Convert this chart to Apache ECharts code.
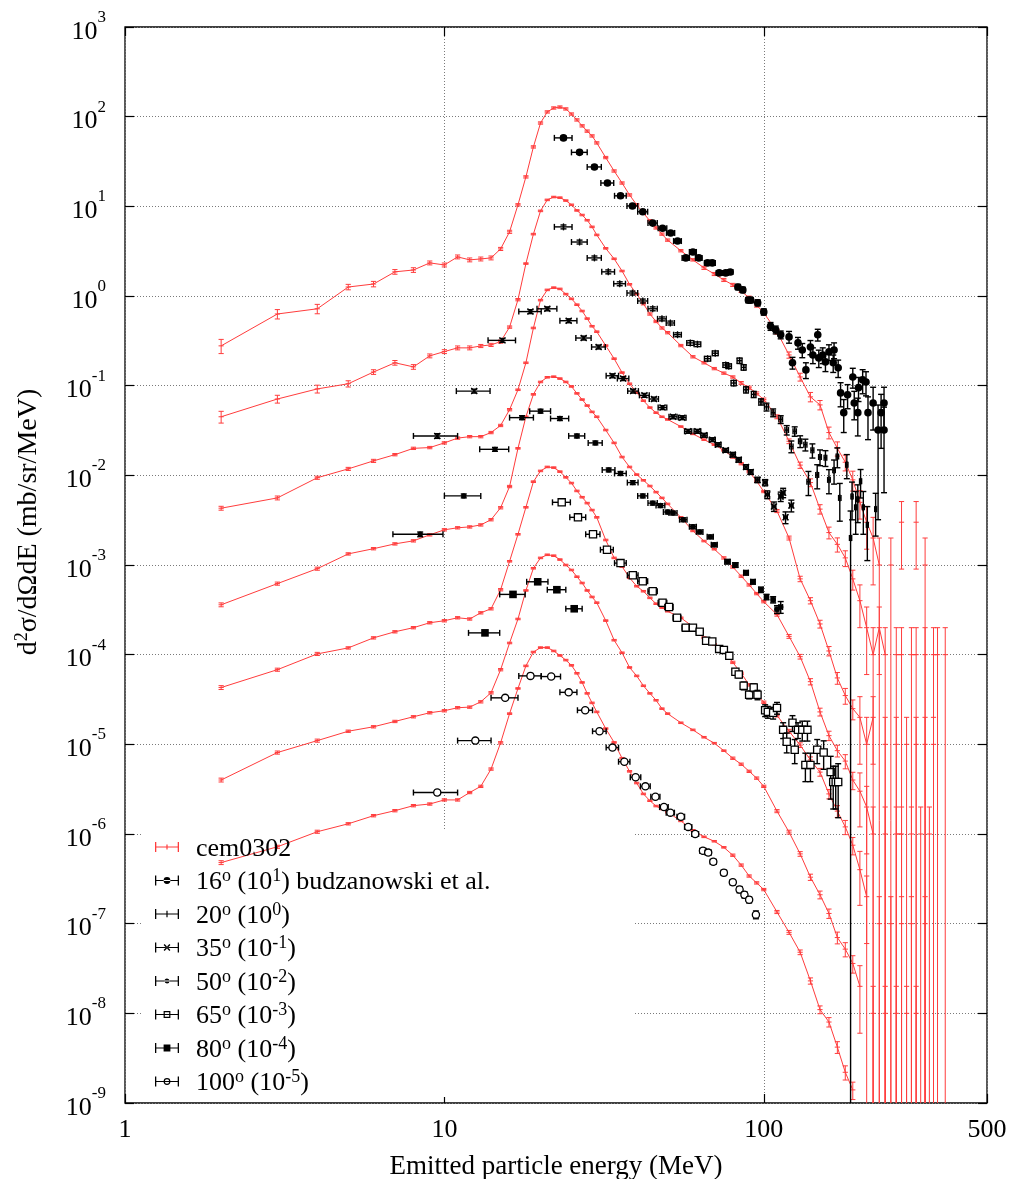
<!DOCTYPE html>
<html>
<head>
<meta charset="utf-8">
<script src="https://cdn.jsdelivr.net/npm/echarts@6/dist/echarts.min.js"></script>
<style>
  html, body { margin: 0; padding: 0; background: #fff; }
  #chart { width: 1014px; height: 1179px; }
</style>
</head>
<body>
<div id="chart"></div>
<script>
// Double-differential cross sections vs. emitted particle energy.
// Rows: [energy (MeV), d2sigma/dOmega dE (mb/sr/MeV, scaled), relative error]
// A value of 0 marks an empty bin of the calculation (nothing is drawn there).

// ---- cem0302 calculations (one curve per angle) ----
const cem16 = [
  [2,0.278,0.18],[3,0.63,0.12],[4,0.72,0.12],[5,1.26,0.07],[6,1.36,0.07],[7,1.86,0.06],[8,1.95,0.06],[9,2.34,0.05],[10,2.22,0.05],
  [11,2.73,0.05],[12,2.53,0.05],[13,2.59,0.05],[14,2.66,0.05],[15,3.35,0.04],[16,5.2,0.04],[17,10.4,0.03],[18,21.3,0.03],[19,46,0.03],
  [20,85,0.03],[21,113,0.03],[22,125,0.03],[23,128,0.03],[24,122,0.03],[25,107,0.03],[26,92,0.03],[27,79,0.03],[28,69,0.03],[29,61,0.03],
  [30,51,0.03],[32,35,0.03],[34,24.8,0.03],[36,18.2,0.03],[38,13.4,0.03],[40,10.4,0.03],[42,8.4,0.03],[44,6.9,0.03],[46,5.75,0.03],
  [48,4.9,0.03],[50,4.2,0.03],[55,3.2,0.03],[60,2.53,0.03],[65,2.06,0.04],[70,1.76,0.04],[75,1.51,0.04],[80,1.33,0.04],[85,1.14,0.04],
  [90,0.95,0.05],[95,0.79,0.05],[100,0.65,0.05],[110,0.40,0.06],[120,0.22,0.08],[130,0.125,0.1],[140,0.075,0.12],[150,0.061,0.12],
  [160,0.030,0.15],[170,0.020,0.18],[180,0.014,0.2],[190,0.0089,0.25],
  [200,0.005,0.35],[210,0.003,0.5],[220,0.002,0.7],[230,0.001,1],[240,0,0],[250,0.001,1],[260,0,0],[270,0.003,0.7],[280,0,0],
  [290,0,0],[300,0.003,0.7],[310,0,0],[320,0.001,1],[330,0,0]
];
const cem20 = [
  [2,0.045,0.15],[3,0.071,0.1],[4,0.092,0.1],[5,0.105,0.08],[6,0.142,0.06],[7,0.18,0.06],[8,0.162,0.06],[9,0.215,0.05],[10,0.24,0.05],
  [11,0.264,0.05],[12,0.264,0.05],[13,0.277,0.04],[14,0.285,0.04],[15,0.31,0.04],[16,0.45,0.03],[17,0.91,0.03],[18,2.3,0.02],[19,4.9,0.02],
  [20,8.9,0.02],[21,11.8,0.02],[22,12.7,0.02],[23,12.5,0.02],[24,11.6,0.02],[25,10.4,0.02],[26,9.0,0.02],[27,8.0,0.02],[28,7.0,0.02],
  [29,5.9,0.02],[30,4.8,0.02],[32,3.4,0.02],[34,2.6,0.02],[36,1.9,0.02],[38,1.35,0.02],[40,1.05,0.02],[42,0.82,0.03],[44,0.63,0.03],
  [46,0.52,0.03],[48,0.44,0.03],[50,0.39,0.03],[55,0.28,0.03],[60,0.21,0.03],[65,0.18,0.03],[70,0.155,0.03],[75,0.138,0.03],[80,0.125,0.03],
  [85,0.107,0.04],[90,0.095,0.04],[95,0.082,0.04],[100,0.07,0.04],[110,0.045,0.05],[120,0.024,0.06],[130,0.013,0.08],[140,0.0083,0.1],
  [150,0.0042,0.12],[160,0.0023,0.15],[170,0.0017,0.18],[180,0.0012,0.2],[190,0.0007,0.25],
  [200,0.0004,0.5],[210,0.0002,0.7],[220,0.0001,1],[230,0.0002,0.7],[240,0.0001,1],[250,0,0],[260,0.0001,1],[270,0.0001,1],[280,0,0],
  [290,0.0001,1],[300,0.0001,1],[310,0,0],[320,0.0001,1],[330,0,0],[340,0.0001,1],[350,0.0001,1],[360,0,0],[370,0.0001,1]
];
const cem35 = [
  [2,0.0043,0.05],[3,0.0056,0.05],[4,0.0094,0.04],[5,0.0118,0.04],[6,0.0145,0.04],[7,0.017,0.03],[8,0.020,0.03],[9,0.0204,0.03],[10,0.023,0.03],
  [11,0.026,0.03],[12,0.027,0.03],[13,0.027,0.03],[14,0.030,0.03],[15,0.036,0.03],[16,0.054,0.03],[17,0.09,0.02],[18,0.18,0.02],[19,0.44,0.02],
  [20,0.90,0.02],[21,1.17,0.02],[22,1.24,0.02],[23,1.2,0.02],[24,1.05,0.02],[25,0.93,0.02],[26,0.80,0.02],[27,0.68,0.02],[28,0.56,0.02],
  [29,0.46,0.02],[30,0.40,0.02],[32,0.28,0.02],[34,0.20,0.02],[36,0.14,0.02],[38,0.105,0.02],[40,0.084,0.02],[42,0.068,0.02],[44,0.057,0.02],
  [46,0.05,0.02],[48,0.045,0.02],[50,0.042,0.02],[55,0.035,0.02],[60,0.029,0.02],[65,0.025,0.02],[70,0.022,0.02],[75,0.019,0.02],[80,0.016,0.03],
  [85,0.0135,0.03],[90,0.011,0.03],[95,0.0086,0.03],[100,0.0066,0.03],[110,0.004,0.04],[120,0.002,0.05],[130,0.0007,0.07],[140,0.0004,0.08],
  [150,0.00022,0.1],[160,0.00011,0.12],[170,0.000055,0.15],[180,0.000035,0.2],[190,0.000025,0.25],
  [200,0.00002,0.7],[210,0.00001,1],[220,0.00002,0.7],[230,0,0],[240,0.00001,1],[250,0,0],[260,0.00001,1],[270,0,0],[280,0.00001,1],
  [290,0,0],[300,0.00001,1],[310,0,0],[320,0.00001,1],[330,0,0],[340,0.00001,1],[350,0,0]
];
const cem50 = [
  [2,3.6e-4,0.05],[3,6.2e-4,0.04],[4,9.1e-4,0.04],[5,1.33e-3,0.03],[6,1.52e-3,0.03],[7,1.72e-3,0.03],[8,1.86e-3,0.03],[9,2.17e-3,0.03],[10,2.47e-3,0.03],
  [11,2.6e-3,0.03],[12,2.66e-3,0.03],[13,2.8e-3,0.03],[14,3.2e-3,0.03],[15,4.35e-3,0.03],[16,7.5e-3,0.03],[17,0.02,0.02],[18,0.045,0.02],[19,0.08,0.02],
  [20,0.11,0.02],[21,0.124,0.02],[22,0.126,0.02],[23,0.12,0.02],[24,0.11,0.02],[25,0.098,0.02],[26,0.082,0.02],[27,0.07,0.02],[28,0.06,0.02],
  [29,0.051,0.02],[30,0.045,0.02],[32,0.032,0.02],[34,0.023,0.02],[36,0.016,0.02],[38,0.0124,0.02],[40,0.0102,0.02],[42,8.8e-3,0.02],[44,7.6e-3,0.02],
  [46,6.5e-3,0.02],[48,5.6e-3,0.02],[50,4.8e-3,0.02],[55,3.4e-3,0.02],[60,2.4e-3,0.02],[65,1.85e-3,0.02],[70,1.5e-3,0.02],[75,1.2e-3,0.03],[80,9.5e-4,0.03],
  [85,7.5e-4,0.03],[90,6.0e-4,0.03],[95,4.8e-4,0.03],[100,3.9e-4,0.03],[110,2.8e-4,0.04],[120,1.6e-4,0.05],[130,9.5e-5,0.06],[140,5e-5,0.08],
  [150,2.3e-5,0.1],[160,1.25e-5,0.12],[170,8.5e-6,0.15],[180,6.5e-6,0.18],[190,4e-6,0.22],
  [200,3e-6,0.6],[210,2e-6,0.7],[220,1e-6,1],[230,0,0],[240,1e-6,1],[250,0,0],[260,1e-6,1],[270,1e-6,1],[280,0,0],[290,1e-6,1],
  [300,0,0],[310,1e-6,1],[320,0,0],[330,1e-6,1],[340,0,0]
];
const cem65 = [
  [2,4.3e-5,0.05],[3,6.8e-5,0.04],[4,1.02e-4,0.04],[5,1.19e-4,0.03],[6,1.54e-4,0.03],[7,1.8e-4,0.03],[8,2.0e-4,0.03],[9,2.27e-4,0.03],[10,2.39e-4,0.03],
  [11,2.58e-4,0.03],[12,2.5e-4,0.03],[13,2.93e-4,0.03],[14,3.25e-4,0.03],[15,5.3e-4,0.03],[16,1.1e-3,0.02],[17,2.2e-3,0.02],[18,4.4e-3,0.02],[19,8.5e-3,0.02],
  [20,0.0112,0.02],[21,0.0124,0.02],[22,0.0122,0.02],[23,0.011,0.02],[24,0.0095,0.02],[25,0.0082,0.02],[26,0.0067,0.02],[27,0.0057,0.02],[28,0.0049,0.02],
  [29,0.0041,0.02],[30,0.0034,0.02],[32,0.0019,0.02],[34,0.0012,0.02],[36,9.6e-4,0.02],[38,7.2e-4,0.02],[40,5.8e-4,0.02],[42,5.1e-4,0.02],[44,4.3e-4,0.02],
  [46,3.7e-4,0.02],[48,3.35e-4,0.02],[50,3.05e-4,0.02],[55,2.58e-4,0.02],[60,2.05e-4,0.02],[65,1.55e-4,0.02],[70,1.3e-4,0.02],[75,1.1e-4,0.02],[80,8.2e-5,0.03],
  [85,6.2e-5,0.03],[90,4.6e-5,0.03],[95,3.6e-5,0.03],[100,2.95e-5,0.03],[110,2.1e-5,0.04],[120,1.4e-5,0.05],[130,9.8e-6,0.06],[140,6.7e-6,0.08],
  [150,4.9e-6,0.1],[160,2.8e-6,0.12],[170,1.8e-6,0.15],[180,1.2e-6,0.18],[190,7.5e-7,0.22],
  [200,4e-7,0.6],[210,2e-7,0.7],[220,0,0],[230,1e-7,1],[240,0,0],[250,1e-7,1],[260,0,0],[270,1e-7,1],[280,0,0],[290,1e-7,1],[300,0,0],[320,1e-7,1],[330,0,0]
];
const cem80 = [
  [2,4.0e-6,0.05],[3,8.1e-6,0.04],[4,1.1e-5,0.04],[5,1.4e-5,0.03],[6,1.57e-5,0.03],[7,1.8e-5,0.03],[8,2.03e-5,0.03],[9,2.25e-5,0.03],[10,2.37e-5,0.03],
  [11,2.56e-5,0.03],[12,2.6e-5,0.03],[13,2.98e-5,0.03],[14,3.76e-5,0.03],[15,6.8e-5,0.03],[16,1.35e-4,0.02],[17,2.5e-4,0.02],[18,5.2e-4,0.02],[19,9.2e-4,0.02],
  [20,1.2e-3,0.02],[21,1.3e-3,0.02],[22,1.27e-3,0.02],[23,1.15e-3,0.02],[24,1.0e-3,0.02],[25,8.8e-4,0.02],[26,7.4e-4,0.02],[27,6.3e-4,0.02],[28,5.2e-4,0.02],
  [29,4.4e-4,0.02],[30,3.8e-4,0.02],[32,2.4e-4,0.02],[34,1.45e-4,0.02],[36,1.05e-4,0.02],[38,7.2e-5,0.02],[40,5.8e-5,0.02],[42,4.5e-5,0.02],[44,3.7e-5,0.02],
  [46,3.1e-5,0.02],[48,2.5e-5,0.02],[50,2.2e-5,0.02],[55,1.74e-5,0.02],[60,1.45e-5,0.02],[65,1.2e-5,0.02],[70,1.03e-5,0.02],[75,8.5e-6,0.02],[80,7.0e-6,0.03],
  [85,6.0e-6,0.03],[90,5.0e-6,0.03],[95,4.2e-6,0.03],[100,3.4e-6,0.03],[110,1.8e-6,0.04],[120,1.05e-6,0.05],[130,6e-7,0.06],[140,3.3e-7,0.08],
  [150,2.1e-7,0.1],[160,1.3e-7,0.12],[170,7e-8,0.15],[180,5.2e-8,0.18],[190,3.6e-8,0.22],
  [200,2e-8,0.7],[210,0,0],[220,1e-8,1],[230,0,0],[240,1e-8,1],[250,0,0],[260,1e-8,1],[270,0,0],[280,1e-8,1],[290,0,0],[300,1e-8,1],[310,0,0]
];
const cem100 = [
  [2,4.8e-7,0.05],[3,7.2e-7,0.04],[4,1.06e-6,0.04],[5,1.3e-6,0.03],[6,1.6e-6,0.03],[7,1.82e-6,0.03],[8,2.07e-6,0.03],[9,2.16e-6,0.03],[10,2.4e-6,0.03],
  [11,2.4e-6,0.03],[12,2.9e-6,0.03],[13,3.4e-6,0.03],[14,5.3e-6,0.03],[15,1.04e-5,0.03],[16,2.2e-5,0.02],[17,4.2e-5,0.02],[18,7.5e-5,0.02],[19,1.07e-4,0.02],
  [20,1.2e-4,0.02],[21,1.2e-4,0.02],[22,1.1e-4,0.02],[23,9.8e-5,0.02],[24,8.7e-5,0.02],[25,7.6e-5,0.02],[26,6.2e-5,0.02],[27,4.9e-5,0.02],[28,3.7e-5,0.02],
  [29,2.9e-5,0.02],[30,2.3e-5,0.02],[32,1.5e-5,0.02],[34,1.05e-5,0.02],[36,7.0e-6,0.02],[38,5.0e-6,0.02],[40,3.7e-6,0.02],[42,2.8e-6,0.02],[44,2.35e-6,0.02],
  [46,2.05e-6,0.02],[48,1.9e-6,0.02],[50,1.75e-6,0.02],[55,1.4e-6,0.02],[60,1.1e-6,0.02],[65,9.3e-7,0.02],[70,8.3e-7,0.02],[75,7.1e-7,0.02],[80,5.8e-7,0.03],
  [85,4.5e-7,0.03],[90,3.4e-7,0.03],[95,2.85e-7,0.03],[100,2.4e-7,0.03],[110,1.35e-7,0.04],[120,8e-8,0.05],[130,4.8e-8,0.06],[140,2.3e-8,0.08],
  [150,1.1e-8,0.1],[160,8e-9,0.12],[170,4.2e-9,0.15],[180,2.2e-9,0.18],[190,1.4e-9,0.22]
];

// ---- budzanowski et al. measurements ----
const exp16 = [
  [23.6,58,0.05],[26.5,40,0.05],[29.5,27.5,0.05],[32.4,18.2,0.05],[35.6,13.1,0.05],[38.8,10.1,0.05],[41.8,8.7,0.05],[44.9,6.5,0.05],
  [48.2,5.7,0.05],[51.1,5.05,0.05],[53.7,4.1,0.05],[57,2.66,0.06],[60,3.1,0.06],[62.6,2.66,0.06],[66.7,2.34,0.06],[69,2.34,0.06],
  [72.5,1.81,0.06],[76,1.81,0.06],[78.5,1.85,0.06],[83,1.26,0.07],[86,1.17,0.07],[89.5,0.90,0.07],[91,0.90,0.07],[95.7,0.84,0.08],
  [100,0.665,0.08],[105,0.46,0.1],[109,0.42,0.1],[113,0.37,0.1],[120,0.35,0.15],[123,0.18,0.15],[128,0.30,0.15],[132,0.25,0.18],
  [135.5,0.15,0.2],[140,0.27,0.18],[142.5,0.22,0.2],[147.6,0.37,0.15],[148.7,0.204,0.22],[153,0.22,0.2],[156,0.184,0.22],[160,0.238,0.2],
  [165,0.18,0.22],[166,0.25,0.2],[171,0.158,0.22],[174,0.083,0.3],[178,0.05,0.4],[183,0.079,0.3],[190,0.125,0.25],[192,0.064,0.35],
  [197,0.05,0.45],[198,0.095,0.3],[204,0.116,0.3],[209,0.11,0.3],[212,0.05,0.5],[220,0.064,0.5],[228,0.032,0.9],[233,0.05,0.6],
  [238,0.064,0.5],[238,0.032,0.8]
];
const exp20 = [
  [23.6,5.9,0.05],[26.5,4.0,0.05],[29.5,2.66,0.05],[32.6,1.86,0.05],[35.4,1.37,0.05],[38.8,1.08,0.05],[41.8,0.88,0.05],[44.9,0.72,0.05],
  [48,0.556,0.05],[51,0.50,0.05],[53.7,0.37,0.05],[58.9,0.30,0.06],[62,0.29,0.06],[66.7,0.20,0.06],[70.5,0.23,0.06],[76,0.17,0.06],
  [77.7,0.165,0.06],[80.5,0.107,0.07],[84,0.19,0.07],[86.5,0.16,0.07],[88,0.09,0.08],[93,0.08,0.08],[98,0.066,0.08],[102,0.058,0.1],
  [107,0.05,0.1],[113,0.042,0.1],[118,0.032,0.12],[122,0.021,0.15],[125,0.031,0.12],[130,0.024,0.15],[135,0.022,0.15],[138,0.0085,0.3],
  [142,0.019,0.18],[147,0.0101,0.3],[150,0.016,0.2],[156,0.0157,0.2],[160,0.0089,0.3],[166,0.0114,0.3],[170,0.0162,0.25],[173,0.0056,0.45],
  [182,0.0131,0.3],[187,0.002,1],[189,0.0058,0.45],[194,0.0044,0.5],[197,0.0054,0.45],[201,0.0086,0.35],[205,0.0044,0.5],[211,0.0028,0.6],
  [224,0.0042,0.5]
];
const exp35 = [
  [9.5,0.0275,0.06],[12.4,0.087,0.05],[15.2,0.32,0.05],[18.6,0.67,0.05],[21,0.72,0.05],[24.5,0.53,0.05],[27.3,0.34,0.05],[30.4,0.27,0.05],
  [33.6,0.129,0.05],[36.3,0.12,0.05],[39,0.087,0.05],[42.3,0.078,0.05],[45.3,0.071,0.05],[48.2,0.057,0.05],[52,0.045,0.05],[55.6,0.044,0.05],
  [58,0.031,0.05],[62,0.031,0.05],[65,0.028,0.05],[69,0.025,0.05],[72,0.022,0.05],[76,0.019,0.05],[80,0.017,0.06],[83.5,0.0149,0.06],
  [88,0.0124,0.06],[91,0.0109,0.06],[95.6,0.0089,0.07],[101,0.0083,0.08],[102.6,0.0061,0.1],[107.6,0.0045,0.12],[113,0.0058,0.12],
  [115,0.0064,0.12],[117,0.0034,0.15],[122,0.0046,0.15]
];
const exp50 = [
  [8.4,0.0022,0.06],[11.5,0.0059,0.05],[14.4,0.0195,0.05],[17.5,0.044,0.05],[20,0.052,0.05],[23,0.043,0.05],[26,0.0275,0.05],[29.7,0.023,0.05],
  [32.7,0.0115,0.05],[35.6,0.0105,0.05],[38.9,8.3e-3,0.05],[41.8,5.9e-3,0.05],[44.9,4.9e-3,0.05],[47.5,4.6e-3,0.05],[50,3.9e-3,0.05],
  [52,3.8e-3,0.05],[56,3.2e-3,0.05],[60,2.67e-3,0.05],[63,2.34e-3,0.05],[68,2.06e-3,0.05],[70,1.68e-3,0.05],[77,1.09e-3,0.06],
  [81.5,1.0e-3,0.06],[88,8.2e-4,0.06],[92.5,6.5e-4,0.06],[98,5.3e-4,0.07],[102,4.4e-4,0.07],[107,4.1e-4,0.08],[110,3.2e-4,0.1],[113,3.4e-4,0.15]
];
const exp65 = [
  [23.3,5e-3,0.05],[26.2,3.4e-3,0.05],[29.2,2.2e-3,0.05],[32.3,1.48e-3,0.05],[35.6,1.05e-3,0.05],[38.9,7.7e-4,0.05],[41.8,6.6e-4,0.05],
  [44.9,5.1e-4,0.05],[48.2,3.8e-4,0.05],[50.5,3.4e-4,0.05],[53.5,2.58e-4,0.05],[57,2.0e-4,0.05],[60,2.0e-4,0.05],[63,1.8e-4,0.05],
  [66,1.43e-4,0.06],[69,1.4e-4,0.06],[72.5,1.16e-4,0.06],[75,1.13e-4,0.06],[78,9.7e-5,0.07],[81.5,6.45e-5,0.08],[83.5,6.0e-5,0.08],
  [86.5,4.5e-5,0.1],[90,3.57e-5,0.1],[93,4.3e-5,0.1],[95.6,3.57e-5,0.12],[101,2.4e-5,0.15],[103,2.3e-5,0.15],[107,2.25e-5,0.15],
  [110,2.55e-5,0.15],[115,1.45e-5,0.2],[118,1.07e-5,0.25],[123,1.74e-5,0.2],[125,8.7e-6,0.3],[128,1.45e-5,0.2],[132,1.45e-5,0.25],
  [135,5.9e-6,0.35],[137,1.45e-5,0.25],[140,5.9e-6,0.35],[147,8.7e-6,0.3],[154,8.1e-6,0.35],[162,4.9e-6,0.5],[165,3.8e-6,0.5],
  [168,3.8e-6,0.5],[171,3.8e-6,0.6]
];
const exp80 = [
  [13.4,1.75e-4,0.06],[16.4,4.7e-4,0.05],[19.6,6.5e-4,0.05],[22.5,5.3e-4,0.05],[25.5,3.25e-4,0.05]
];
const exp100 = [
  [9.5,2.9e-6,0.06],[12.5,1.1e-5,0.05],[15.5,3.3e-5,0.05],[18.6,5.8e-5,0.05],[21.6,5.7e-5,0.05],[24.5,3.8e-5,0.05],[27.6,2.4e-5,0.05],
  [30.6,1.4e-5,0.05],[33.6,9.2e-6,0.05],[36.6,6.4e-6,0.05],[39.7,4.3e-6,0.05],[42.6,3.4e-6,0.05],[45.8,2.6e-6,0.05],[48.7,2.0e-6,0.05],
  [51,1.73e-6,0.05],[55,1.56e-6,0.05],[58,1.2e-6,0.05],[61,1.0e-6,0.06],[64.5,6.5e-7,0.06],[67,6.2e-7,0.06],[69.5,4.9e-7,0.06],
  [75,3.7e-7,0.07],[80,2.9e-7,0.07],[84,2.4e-7,0.08],[87,2.1e-7,0.08],[90,1.85e-7,0.08],[94.5,1.26e-7,0.1]
];
// energy bin half-width of the measurements (MeV)
const BIN_HALF_WIDTH = 1.5;

// axis ranges
const X_RANGE = [1, 500];
const Y_RANGE = [1e-9, 1e3];

const FONT = '"Liberation Serif", "DejaVu Serif", "Times New Roman", serif';
const RED = '#ff3c3c';
const INK = '#000';

const cemCurves = [cem16, cem20, cem35, cem50, cem65, cem80, cem100];

// small glyphs used in the legend (24 x 10 boxes)
const BAR = 'M0,0h1.3v10h-1.3z M22.7,0h1.3v10h-1.3z M0,4.4h24v1.2h-24z ';
const ICONS = {
  cem: BAR + 'M11.4,2.5h1.2v5h-1.2z',
  dot: BAR + 'M12,1.6a3.4,3.4 0 1,0 0.01,0z',
  plus: BAR + 'M11.4,1.8h1.2v6.4h-1.2z',
  cross: BAR + 'M8.6,2.6L9.6,1.6L15.4,7.4L14.4,8.4Z M15.4,2.6L14.4,1.6L8.6,7.4L9.6,8.4Z',
  smalldot: BAR + 'M12,2.5a2.5,2.5 0 1,0 0.01,0z',
  osquare: BAR + 'M8.6,1.6h6.8v6.8h-6.8z M9.8,2.8v4.4h4.4v-4.4z',
  fsquare: BAR + 'M8.6,1.6h6.8v6.8h-6.8z',
  ocircle: BAR + 'M12,1.6a3.4,3.4 0 1,1 -0.01,0z M12,2.8a2.2,2.2 0 1,0 0.01,0z'
};

const expSets = [
  { name: 'exp16', data: exp16, marker: 'dot',      text: '{n|16}{s|o}{n| (10}{s|1}{n|) budzanowski et al.}' },
  { name: 'exp20', data: exp20, marker: 'plus',     text: '{n|20}{s|o}{n| (10}{s|0}{n|)}' },
  { name: 'exp35', data: exp35, marker: 'cross',    text: '{n|35}{s|o}{n| (10}{s|-1}{n|)}' },
  { name: 'exp50', data: exp50, marker: 'smalldot', text: '{n|50}{s|o}{n| (10}{s|-2}{n|)}' },
  { name: 'exp65', data: exp65, marker: 'osquare',  text: '{n|65}{s|o}{n| (10}{s|-3}{n|)}' },
  { name: 'exp80', data: exp80, marker: 'fsquare',  text: '{n|80}{s|o}{n| (10}{s|-4}{n|)}' },
  { name: 'exp100', data: exp100, marker: 'ocircle', text: '{n|100}{s|o}{n| (10}{s|-5}{n|)}' }
];

const legendText = { cem0302: '{n|cem0302}' };
expSets.forEach(s => { legendText[s.name] = s.text; });

function seg(x1, y1, x2, y2, color, w) {
  return { type: 'line', shape: { x1, y1, x2, y2 }, style: { stroke: color, lineWidth: w } };
}

function markerShape(kind, x, y) {
  const st = { stroke: INK, lineWidth: 1.3 };
  switch (kind) {
    case 'dot': return { type: 'circle', shape: { cx: x, cy: y, r: 3.8 }, style: { fill: INK } };
    case 'smalldot': return { type: 'circle', shape: { cx: x, cy: y, r: 2.7 }, style: { fill: INK } };
    case 'plus': return { type: 'group', children: [seg(x, y - 3.5, x, y + 3.5, INK, 1.3)] };
    case 'cross': return { type: 'group', children: [seg(x - 3, y - 3, x + 3, y + 3, INK, 1.4), seg(x - 3, y + 3, x + 3, y - 3, INK, 1.4)] };
    case 'osquare': return { type: 'rect', shape: { x: x - 3.6, y: y - 3.6, width: 7.2, height: 7.2 }, style: Object.assign({ fill: '#fff' }, st) };
    case 'fsquare': return { type: 'rect', shape: { x: x - 3.8, y: y - 3.8, width: 7.6, height: 7.6 }, style: { fill: INK } };
    case 'ocircle': return { type: 'circle', shape: { cx: x, cy: y, r: 3.6 }, style: Object.assign({ fill: '#fff' }, st) };
  }
  return { type: 'group', children: [] };
}

// vertical error bar with caps plus a small tick at the value (calculation points)
function renderCem(params, api) {
  const cs = params.coordSys;
  const E = api.value(0), v = api.value(1), r = api.value(2);
  if (!(v > 0)) return null;
  const yMin = cs.y, yMax = cs.y + cs.height;
  const p = api.coord([E, v]);
  const topRaw = api.coord([E, v * (1 + r)])[1];
  const lowVal = v * (1 - r);
  const botRaw = lowVal > 0 ? api.coord([E, lowVal])[1] : Infinity;
  const top = Math.max(yMin, topRaw), bot = Math.min(yMax, botRaw);
  const c = 2.6;
  const kids = [seg(p[0], top, p[0], bot, RED, 1)];
  if (topRaw >= yMin) kids.push(seg(p[0] - c, top, p[0] + c, top, RED, 1));
  if (botRaw <= yMax) kids.push(seg(p[0] - c, bot, p[0] + c, bot, RED, 1));
  if (p[1] >= yMin && p[1] <= yMax) kids.push(seg(p[0] - c, p[1], p[0] + c, p[1], RED, 1));
  return { type: 'group', children: kids };
}

// x/y error bars and marker (measurements)
function makeExpRenderer(kind) {
  return function (params, api) {
    const cs = params.coordSys;
    const E = api.value(0), v = api.value(1), r = api.value(2);
    const yMin = cs.y, yMax = cs.y + cs.height;
    const p = api.coord([E, v]);
    const xl = api.coord([E - BIN_HALF_WIDTH, v])[0];
    const xr = api.coord([E + BIN_HALF_WIDTH, v])[0];
    const topRaw = api.coord([E, v * (1 + r)])[1];
    const lowVal = v * (1 - r);
    const botRaw = lowVal > 0 ? api.coord([E, lowVal])[1] : Infinity;
    const top = Math.max(yMin, topRaw), bot = Math.min(yMax, botRaw);
    const c = 3, w = 1.4;
    const kids = [
      seg(xl, p[1], xr, p[1], INK, w),
      seg(xl, p[1] - c, xl, p[1] + c, INK, w),
      seg(xr, p[1] - c, xr, p[1] + c, INK, w),
      seg(p[0], top, p[0], bot, INK, w)
    ];
    if (topRaw >= yMin) kids.push(seg(p[0] - c, top, p[0] + c, top, INK, w));
    if (botRaw <= yMax) kids.push(seg(p[0] - c, bot, p[0] + c, bot, INK, w));
    kids.push(markerShape(kind, p[0], p[1]));
    return { type: 'group', children: kids };
  };
}

const series = [];
cemCurves.forEach(rows => {
  series.push({
    type: 'line', name: 'cem0302',
    data: rows.map(d => [d[0], d[1] > 0 ? d[1] : null]),
    connectNulls: false, showSymbol: false, symbol: 'none',
    lineStyle: { color: RED, width: 1 }, itemStyle: { color: RED }, z: 2, silent: true
  });
  series.push({
    type: 'custom', name: 'cem0302', data: rows, renderItem: renderCem,
    encode: { x: 0, y: 1 }, itemStyle: { color: RED }, z: 3, silent: true, clip: true
  });
});
expSets.forEach(s => {
  series.push({
    type: 'custom', name: s.name, data: s.data, renderItem: makeExpRenderer(s.marker),
    encode: { x: 0, y: 1 }, itemStyle: { color: INK }, z: 4, silent: true, clip: true
  });
});

const supRich = {
  b: { fontFamily: FONT, fontSize: 26, color: INK, padding: [10, 0, 0, 0] },
  s: { fontFamily: FONT, fontSize: 17, color: INK, verticalAlign: 'top', lineHeight: 17 }
};

function logLabel(val) {
  const e = Math.round(Math.log10(val));
  return '{b|10}{s|' + e + '}';
}

const tickStyle = { show: true, inside: true, length: 9, lineStyle: { color: INK, width: 1.2 } };
const gridLine = { show: true, lineStyle: { color: '#7a7a7a', type: [1, 2], width: 1 } };

const chart = echarts.init(document.getElementById('chart'), null, { renderer: 'canvas' });
chart.setOption({
  animation: false,
  backgroundColor: '#fff',
  grid: { left: 125, right: 27, top: 27, bottom: 76, show: true, borderColor: INK, borderWidth: 1.3, backgroundColor: 'transparent', outerBoundsMode: 'none' },
  xAxis: [{
    type: 'log', logBase: 10, min: X_RANGE[0], max: X_RANGE[1], interval: 1,
    axisLine: { show: false }, axisTick: tickStyle, minorTick: { show: false },
    axisLabel: { fontFamily: FONT, fontSize: 26, color: INK, margin: 14, showMaxLabel: true, showMinLabel: true },
    splitLine: gridLine,
    name: 'Emitted particle energy (MeV)', nameLocation: 'middle', nameGap: 50,
    nameTextStyle: { fontFamily: FONT, fontSize: 27, color: INK }
  }, {
    type: 'log', logBase: 10, min: X_RANGE[0], max: X_RANGE[1], interval: 1, position: 'top',
    axisLine: { show: false }, axisLabel: { show: false }, splitLine: { show: false }, axisTick: tickStyle
  }],
  yAxis: [{
    type: 'log', logBase: 10, min: Y_RANGE[0], max: Y_RANGE[1], interval: 1,
    axisLine: { show: false }, axisTick: tickStyle,
    axisLabel: { formatter: logLabel, rich: supRich, margin: 19, showMaxLabel: true, showMinLabel: true },
    splitLine: gridLine
  }, {
    type: 'log', logBase: 10, min: Y_RANGE[0], max: Y_RANGE[1], interval: 1, position: 'right',
    axisLine: { show: false }, axisLabel: { show: false }, splitLine: { show: false }, axisTick: tickStyle
  }],
  legend: {
    orient: 'vertical', left: 155, top: 832, itemWidth: 24, itemHeight: 10, itemGap: 3.5,
    selectedMode: false, backgroundColor: 'transparent', padding: 0,
    data: [{ name: 'cem0302', icon: 'path://' + ICONS.cem, itemStyle: { color: RED, borderWidth: 0 } }]
      .concat(expSets.map(s => ({ name: s.name, icon: 'path://' + ICONS[s.marker], itemStyle: { color: INK, borderWidth: 0 } }))),
    formatter: name => legendText[name],
    textStyle: {
      fontFamily: FONT, fontSize: 26, color: INK, padding: [0, 0, 0, 12],
      rich: {
        n: { fontFamily: FONT, fontSize: 26, color: INK, lineHeight: 26, padding: [4, 0, 0, 0] },
        s: { fontFamily: FONT, fontSize: 18, color: INK, lineHeight: 18, verticalAlign: 'top' }
      }
    }
  },
  graphic: [
    { type: 'rect', silent: true, z: 1, shape: { x: 141, y: 829, width: 494, height: 268 }, style: { fill: '#fff' } },
    {
      type: 'text', silent: true, x: 27, y: 522, rotation: Math.PI / 2,
      style: {
        text: '{t|d}{s|2}{t|σ/dΩdE (mb/sr/MeV)}', align: 'center', verticalAlign: 'middle',
        rich: {
          t: { fontFamily: FONT, fontSize: 28, color: INK, lineHeight: 28, padding: [4, 0, 0, 0] },
          s: { fontFamily: FONT, fontSize: 18, color: INK, lineHeight: 18, verticalAlign: 'top' }
        }
      }
    }
  ],
  series: series
});
</script>
</body>
</html>
